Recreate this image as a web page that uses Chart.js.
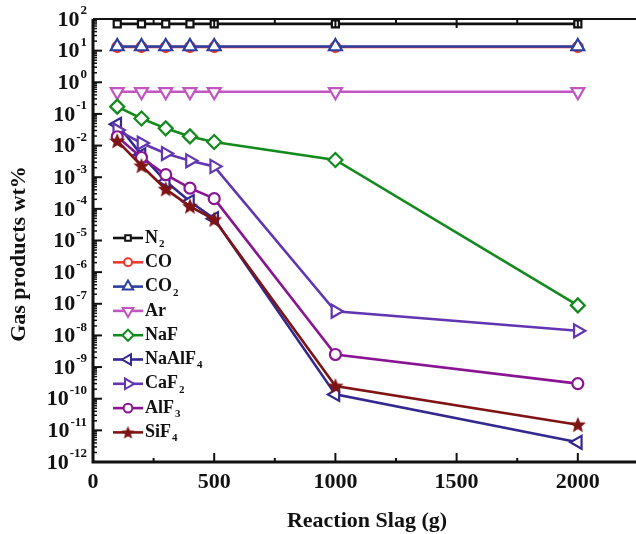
<!DOCTYPE html>
<html>
<head>
<meta charset="utf-8">
<script src="https://cdn.jsdelivr.net/npm/chart.js@4.4.0/dist/chart.umd.min.js"></script>
<style>
  html, body { margin: 0; padding: 0; background: #fff; }
  canvas { display: block; }
</style>
</head>
<body>
<canvas id="myChart" width="636" height="534"></canvas>
<script>
// reaction slag mass (g)
var slag = [100, 200, 300, 400, 500, 1000, 2000];

// gas products, wt%
var gasN2     = [70, 70, 70, 70, 70, 70, 70];
var gasCO     = [13, 13, 13, 13, 13, 13, 13];
var gasCO2    = [13.5, 13.5, 13.5, 13.5, 13.5, 13.5, 13.5];
var gasAr     = [0.5, 0.5, 0.5, 0.5, 0.5, 0.5, 0.5];
var gasNaF    = [0.17, 0.072, 0.035, 0.0195, 0.013, 0.0035, 8.9e-8];
var gasNaAlF4 = [0.047, 0.0051, 7.4e-4, 1.7e-4, 4.9e-5, 1.37e-10, 4.2e-12];
var gasCaF2   = [0.031, 0.012, 0.0056, 0.0033, 0.0022, 5.8e-8, 1.4e-8];
var gasAlF3   = [0.019, 0.0042, 0.0012, 4.5e-4, 2.1e-4, 2.5e-9, 3.0e-10];
var gasSiF4   = [0.014, 0.0023, 4.2e-4, 1.2e-4, 4.6e-5, 2.5e-10, 1.5e-11];

var gasNames = ['N2', 'CO', 'CO2', 'Ar', 'NaF', 'NaAlF4', 'CaF2', 'AlF3', 'SiF4'];
var xTicks = [0, 500, 1000, 1500, 2000];

var FONT = '"Liberation Serif", "Times New Roman", serif';

// filled star marker for SiF4
function makeStar(color, size) {
    var c = document.createElement('canvas');
    c.width = size; c.height = size;
    var g = c.getContext('2d');
    var h = size / 2;
    g.beginPath();
    for (var i = 0; i < 10; i++) {
        var r = (i % 2 === 0) ? h - 0.5 : h * 0.42;
        var a = -Math.PI / 2 + i * Math.PI / 5;
        var px = h + r * Math.cos(a), py = h + 0.5 + r * Math.sin(a);
        if (i === 0) g.moveTo(px, py); else g.lineTo(px, py);
    }
    g.closePath();
    g.fillStyle = color;
    g.fill();
    return c;
}

var styles = [
    { color: '#111111', point: 'rect',     rot: 0,   r: 5 },
    { color: '#f03a2e', point: 'circle',   rot: 0,   r: 5 },
    { color: '#2b3fa3', point: 'triangle', rot: 0,   r: 7.5 },
    { color: '#c255c0', point: 'triangle', rot: 180, r: 7.5 },
    { color: '#138a1c', point: 'rectRot',  rot: 0,   r: 7 },
    { color: '#32288f', point: 'triangle', rot: 270, r: 7.5 },
    { color: '#6236b3', point: 'triangle', rot: 90,  r: 7.5 },
    { color: '#8a1592', point: 'circle',   rot: 0,   r: 5.5 },
    { color: '#7f1414', point: makeStar('#7f1414', 18), rot: 0, r: 8 }
];
var legendStar = makeStar('#7f1414', 15);

var seriesData = [gasN2, gasCO, gasCO2, gasAr, gasNaF, gasNaAlF4, gasCaF2, gasAlF3, gasSiF4];

var datasets = seriesData.map(function (vals, i) {
    var s = styles[i];
    return {
        label: gasNames[i],
        data: slag.map(function (x, j) { return { x: x, y: vals[j] }; }),
        borderColor: s.color,
        backgroundColor: '#ffffff',
        borderWidth: 2.6,
        pointStyle: s.point,
        pointRotation: s.rot,
        pointRadius: s.r,
        pointHoverRadius: s.r,
        pointBorderWidth: 2.2,
        pointBackgroundColor: '#ffffff',
        pointBorderColor: s.color,
        tension: 0,
        order: -i
    };
});

// draws "base" + trailing digits as subscript
function drawSubLabel(ctx, text, x, y, size) {
    var m = text.match(/^(.*?)(\d*)$/);
    ctx.font = 'bold ' + size + 'px ' + FONT;
    ctx.textAlign = 'left';
    ctx.textBaseline = 'middle';
    ctx.fillText(m[1], x, y);
    if (m[2]) {
        var w = ctx.measureText(m[1]).width;
        ctx.font = 'bold ' + Math.round(size * 0.6) + 'px ' + FONT;
        ctx.fillText(m[2], x + w + 1, y + size * 0.34);
    }
}

var axesPlugin = {
    id: 'axesPlugin',
    afterDraw: function (chart) {
        var ctx = chart.ctx;
        var a = chart.chartArea;
        var xs = chart.scales.x, ys = chart.scales.y;
        ctx.save();
        ctx.fillStyle = '#111';
        ctx.strokeStyle = '#111';

        // frame: left, bottom, top
        ctx.lineWidth = 3;
        ctx.beginPath();
        ctx.moveTo(a.left, a.top);
        ctx.lineTo(a.left, a.bottom);
        ctx.lineTo(a.right, a.bottom);
        ctx.stroke();
        ctx.lineWidth = 2;
        ctx.beginPath();
        ctx.moveTo(a.left, a.top);
        ctx.lineTo(a.right, a.top);
        ctx.stroke();

        // x ticks
        ctx.lineWidth = 2;
        for (var v = 0; v <= 2250; v += 250) {
            var px = xs.getPixelForValue(v);
            if (px > a.right) break;
            var len = (v % 500 === 0) ? 9 : 4;
            ctx.beginPath();
            ctx.moveTo(px, a.bottom); ctx.lineTo(px, a.bottom - len);
            ctx.moveTo(px, a.top); ctx.lineTo(px, a.top + len);
            ctx.stroke();
        }
        ctx.font = 'bold 22px ' + FONT;
        ctx.textAlign = 'center';
        ctx.textBaseline = 'middle';
        xTicks.forEach(function (t) {
            ctx.fillText(String(t), xs.getPixelForValue(t), a.bottom + 20);
        });

        // y ticks, decades with minor ticks
        for (var n = -12; n <= 2; n++) {
            var py = ys.getPixelForValue(Math.pow(10, n));
            ctx.lineWidth = 2;
            ctx.beginPath();
            ctx.moveTo(a.left, py); ctx.lineTo(a.left + 9, py);
            ctx.stroke();
            if (n < 2) {
                ctx.lineWidth = 1.5;
                for (var k = 2; k <= 9; k++) {
                    var pm = ys.getPixelForValue(k * Math.pow(10, n));
                    ctx.beginPath();
                    ctx.moveTo(a.left, pm); ctx.lineTo(a.left + 4, pm);
                    ctx.stroke();
                }
            }
            // label 10^n
            var exp = String(n);
            ctx.font = 'bold 13px ' + FONT;
            var ew = ctx.measureText(exp).width;
            var right = a.left - 6;
            ctx.textAlign = 'left';
            ctx.textBaseline = 'middle';
            ctx.fillText(exp, right - ew, py - 8);
            ctx.font = 'bold 22px ' + FONT;
            ctx.textAlign = 'right';
            ctx.fillText('10', right - ew - 1, py + 1);
        }

        // axis titles
        ctx.font = 'bold 22px ' + FONT;
        ctx.textAlign = 'center';
        ctx.textBaseline = 'middle';
        ctx.fillText('Reaction Slag (g)', 367, 521);
        ctx.save();
        ctx.translate(19, 254);
        ctx.rotate(-Math.PI / 2);
        ctx.fillText('Gas products wt%', 0, 0);
        ctx.restore();

        // legend
        var helpers = Chart.helpers;
        chart.data.datasets.forEach(function (ds, i) {
            var ly = 238 + i * 24.3;
            ctx.strokeStyle = ds.borderColor;
            ctx.lineWidth = 2.6;
            ctx.beginPath();
            ctx.moveTo(113, ly); ctx.lineTo(143, ly);
            ctx.stroke();
            ctx.fillStyle = '#ffffff';
            ctx.lineWidth = 2;
            var isStar = typeof ds.pointStyle !== 'string';
            helpers.drawPoint(ctx, {
                pointStyle: isStar ? legendStar : ds.pointStyle,
                rotation: ds.pointRotation,
                radius: ds.pointRadius * 0.8,
                borderWidth: 2
            }, 128, ly);
            ctx.fillStyle = '#111';
            drawSubLabel(ctx, ds.label, 145, ly, 18);
        });
        ctx.restore();
    }
};

var ctx = document.getElementById('myChart').getContext('2d');
var chart = new Chart(ctx, {
    type: 'line',
    data: { datasets: datasets },
    options: {
        responsive: false,
        animation: false,
        layout: { autoPadding: false, padding: { left: 93, top: 19, right: 0, bottom: 72 } },
        plugins: { legend: { display: false }, tooltip: { enabled: false } },
        scales: {
            x: { type: 'linear', min: 0, max: 2240, display: false },
            y: { type: 'logarithmic', min: 1e-12, max: 100, display: false }
        }
    },
    plugins: [axesPlugin]
});
</script>
</body>
</html>
